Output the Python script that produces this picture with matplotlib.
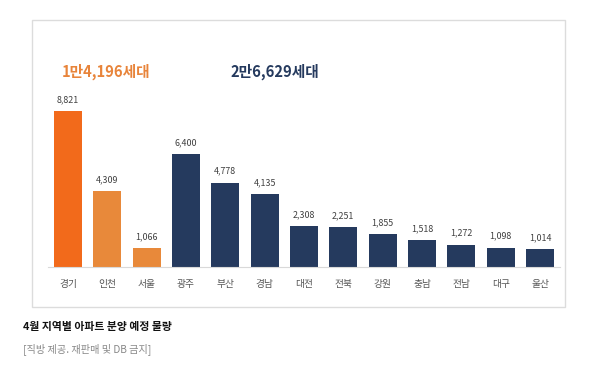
import matplotlib
matplotlib.use("Agg")
import matplotlib.pyplot as plt
from matplotlib.patches import Rectangle

plt.rcParams['font.family'] = ['Noto Sans CJK KR', 'DejaVu Sans']

regions = ['경기', '인천', '서울', '광주', '부산', '경남', '대전', '전북', '강원', '충남', '전남', '대구', '울산']
values = [8821, 4309, 1066, 6400, 4778, 4135, 2308, 2251, 1855, 1518, 1272, 1098, 1014]
colors = ['#F26A1B', '#E8893A', '#E8893A'] + ['#253A5E'] * 10
group_labels = ['1만4,196세대', '2만6,629세대']
group_colors = ['#E8843A', '#253A5E']
caption = '4월 지역별 아파트 분양 예정 물량'
source = '[직방 제공. 재판매 및 DB 금지]'

W, H = 595, 374
fig = plt.figure(figsize=(W / 100, H / 100), dpi=100)
fig.patch.set_facecolor('white')

# outer frame
fig.patches.append(Rectangle((32 / W, 1 - 307 / H), (565 - 32) / W, (307 - 20) / H,
                             transform=fig.transFigure, fill=False,
                             edgecolor='#dcdcdc', linewidth=1.0))

ax_left = 48.3 / W
ax_width = (559.7 - 48.3) / W
ax_bottom = 1 - 267 / H
ax_height = 156 / H
ax = fig.add_axes([ax_left, ax_bottom, ax_width, ax_height])
x = list(range(len(regions)))
ax.bar(x, values, width=0.71, color=colors)
ax.set_xlim(-0.5, len(regions) - 0.5)
ax.set_ylim(0, values[0])
for s in ['top', 'right', 'left']:
    ax.spines[s].set_visible(False)
ax.spines['bottom'].set_color('#d9d9d9')
ax.spines['bottom'].set_linewidth(0.8)
ax.set_yticks([])
ax.set_xticks(x)
ax.set_xticklabels(regions, fontsize=7, color='#555555')
ax.tick_params(axis='x', length=0, pad=9)

for xi, v in zip(x, values):
    ax.annotate(f'{v:,}', (xi, v), xytext=(0, 5), textcoords='offset points',
                ha='center', va='bottom', fontsize=6.4, color='#404040',
                annotation_clip=False)

fig.text(106 / W, 1 - 72 / H, group_labels[0], ha='center', va='center',
         fontsize=10.6, fontweight='bold', color=group_colors[0])
fig.text(275 / W, 1 - 72 / H, group_labels[1], ha='center', va='center',
         fontsize=10.6, fontweight='bold', color=group_colors[1])

fig.text(23 / W, 1 - 327 / H, caption, ha='left', va='center',
         fontsize=7.8, fontweight='bold', color='#111111')
fig.text(23 / W, 1 - 349 / H, source, ha='left', va='center',
         fontsize=7.3, color='#888888')

fig.savefig('out.png', dpi=100)
